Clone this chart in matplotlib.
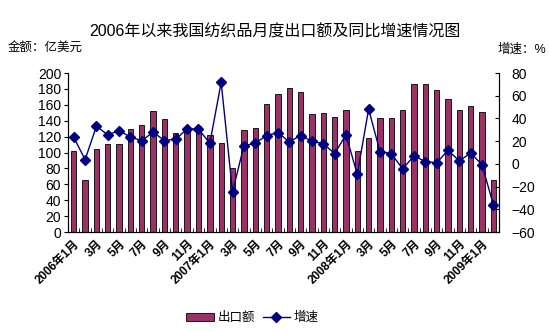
import numpy as np
import matplotlib
matplotlib.use("Agg")
import matplotlib.pyplot as plt
from matplotlib.ticker import FixedLocator

plt.rcParams['font.family'] = ['Liberation Sans', 'Noto Sans CJK SC', 'DejaVu Sans']

# monthly textile exports 2006-01 .. 2009-02 (100 million USD) and yoy growth (%)
export_amt = [102, 66, 104, 111, 111, 129, 135, 152, 142, 124,
              132, 133, 122, 112, 80, 128, 131, 161, 174, 181,
              176, 148, 150, 145, 153, 102, 118, 143, 144, 154,
              186, 186, 179, 167, 154, 159, 151, 66]
growth = [23.5, 3.8, 33.2, 25.6, 29.4, 23.5, 20.6, 27.9, 20.6, 21.8,
          30.9, 30.6, 18.2, 71.8, -24.7, 15.9, 18.2, 25.0, 27.6, 19.4,
          25.0, 20.0, 17.9, 9.1, 25.6, -9.1, 48.2, 10.9, 9.1, -4.4,
          7.1, 2.1, 0.9, 12.0, 2.6, 9.7, -0.9, -35.9]

months = []
for i in range(len(export_amt)):
    y, m = 2006 + i // 12, i % 12 + 1
    months.append((y, m))
tick_pos = [i for i, (y, m) in enumerate(months) if m % 2 == 1]
tick_lab = [f"{y}年1月" if m == 1 else f"{m}月" for (y, m) in months if m % 2 == 1]

x = np.arange(len(export_amt))

fig = plt.figure(figsize=(5.49, 3.32), dpi=100)
ax1 = fig.add_axes([0.124, 0.301, 0.785, 0.479])
ax2 = ax1.twinx()

bars = ax1.bar(x, export_amt, width=0.47, color='#993366', edgecolor='black',
               linewidth=0.6, label='出口额')
line, = ax2.plot(x, growth, color='#000080', lw=1, marker='D', ms=4.8,
                 label='增速')

ax1.set_xlim(-0.5, len(x) - 0.5)
ax1.set_ylim(0, 200)
ax1.set_yticks(range(0, 201, 20))
ax2.set_ylim(-60, 80)
ax2.set_yticks(range(-60, 81, 20))

ax1.set_xticks(tick_pos)
ax1.set_xticklabels(tick_lab, rotation=45, ha='right', rotation_mode='anchor',
                    fontsize=8.5, fontweight='bold')
ax1.xaxis.set_minor_locator(FixedLocator(np.arange(-0.5, len(x), 1)))
ax1.tick_params(axis='x', which='major', length=0, pad=4)
ax1.tick_params(axis='x', which='minor', length=3, direction='in')
ax1.tick_params(axis='y', labelsize=10, length=3, pad=2)
ax2.tick_params(axis='y', labelsize=10, length=3, direction='in', pad=9)

for ax in (ax1, ax2):
    ax.spines['top'].set_visible(False)
    for s in ('left', 'right', 'bottom'):
        ax.spines[s].set_linewidth(0.8)

fig.text(0.5, 0.904, '2006年以来我国纺织品月度出口额及同比增速情况图',
         ha='center', va='center', fontsize=11.5)
fig.text(0.014, 0.856, '金额：亿美元', ha='left', va='center', fontsize=9)
fig.text(0.995, 0.85, '增速：%', ha='right', va='center', fontsize=9)

fig.legend(handles=[bars, line], loc='center', bbox_to_anchor=(0.46, 0.042),
           ncol=2, frameon=False, fontsize=9, handlelength=2.2,
           handletextpad=0.3, columnspacing=0.6)

fig.savefig('out.png', dpi=100)
